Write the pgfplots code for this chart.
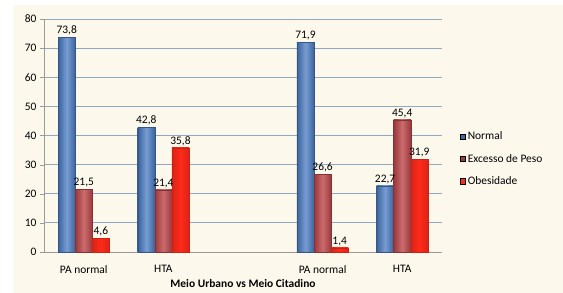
\documentclass[border=0pt]{standalone}
\usepackage{pgfplots}
\pgfplotsset{compat=1.18}
\usepackage{fontspec}
\setmainfont{Carlito}
\definecolor{cream}{HTML}{FCF9EC}
\definecolor{cblue}{HTML}{4A7CC4}
\definecolor{cdred}{HTML}{C0474A}
\definecolor{cred}{HTML}{FF2A1A}
\definecolor{gridc}{HTML}{8FAAC0}
\definecolor{axc}{HTML}{9A9A9A}
\pgfplotsset{
  sblue/.style={forget plot, bar shift=-0.215, draw=cblue!70!black, line width=0.3pt, left color=cblue!80!black, right color=cblue!80!black, middle color=cblue!75!white},
  sdred/.style={forget plot, bar shift=0, draw=cdred!70!black, line width=0.3pt, left color=cdred!80!black, right color=cdred!80!black, middle color=cdred!80!white},
  sred/.style={forget plot, bar shift=0.215, draw=cred!80!black, line width=0.3pt, left color=cred!85!black, right color=cred!85!black, middle color=cred},
}
\begin{document}
\begin{tikzpicture}
\useasboundingbox (-44bp,-41bp) rectangle (519bp,252bp);
\fill[white] (-44bp,-41bp) rectangle (519bp,252bp);
\fill[cream] (-31bp,-41bp) rectangle (519bp,247bp);
\begin{axis}[
  at={(0,0)}, anchor=south west,
  scale only axis, width=398bp, height=233bp,
  /pgf/number format/assume math mode=true,
  font=\fontsize{11.5}{13}\selectfont,
  ybar, bar width=0.215,
  xmin=-0.5, xmax=4.5, ymin=0, ymax=80,
  ytick={0,10,...,80},
  xtick={0,1,3,4},
  xticklabels={PA normal,HTA,PA normal,HTA},
  x tick label style={yshift=-6bp},
  major x tick style={draw=none},
  extra x ticks={-0.5,0.5,1.5,2.5,3.5,4.5},
  extra x tick labels={},
  extra x tick style={major tick length=4bp, tick align=outside, tick style={draw=axc}, grid=none},
  ytick align=outside, major tick length=4bp,
  tick style={axc},
  axis x line*=bottom, axis y line*=left,
  axis line style={axc, line width=0.8pt},
  ymajorgrids, grid style={gridc, line width=0.8pt},
  xlabel={\textbf{Meio Urbano vs Meio Citadino}},
  xlabel style={yshift=9bp},
  nodes near coords,
  nodes near coords style={font=\fontsize{11.5}{13}\selectfont, inner sep=2pt, /pgf/number format/.cd, fixed, fixed zerofill, precision=1, use comma, assume math mode=true},
  legend style={at={(1.038,0.40)}, anchor=west, draw=none, fill=none, font=\fontsize{11.5}{13}\selectfont, row sep=9bp, legend cell align=left},
  legend image code/.code={\fill[#1] (0cm,-0.09cm) rectangle (0.18cm,0.09cm);},
]
% Normal
\addplot[sblue] coordinates {(0,73.8)};
\addplot[sblue] coordinates {(1,42.8)};
\addplot[sblue] coordinates {(3,71.9)};
\addplot[sblue] coordinates {(4,22.7)};
% Excesso de Peso
\addplot[sdred] coordinates {(0,21.5)};
\addplot[sdred] coordinates {(1,21.4)};
\addplot[sdred] coordinates {(3,26.6)};
\addplot[sdred] coordinates {(4,45.4)};
% Obesidade
\addplot[sred] coordinates {(0,4.6)};
\addplot[sred] coordinates {(1,35.8)};
\addplot[sred] coordinates {(3,1.4)};
\addplot[sred] coordinates {(4,31.9)};
\addlegendimage{fill=cblue!85!black}
\addlegendentry{Normal}
\addlegendimage{fill=cdred!85!black}
\addlegendentry{Excesso de Peso}
\addlegendimage{fill=cred}
\addlegendentry{Obesidade}
\end{axis}
\end{tikzpicture}
\end{document}
